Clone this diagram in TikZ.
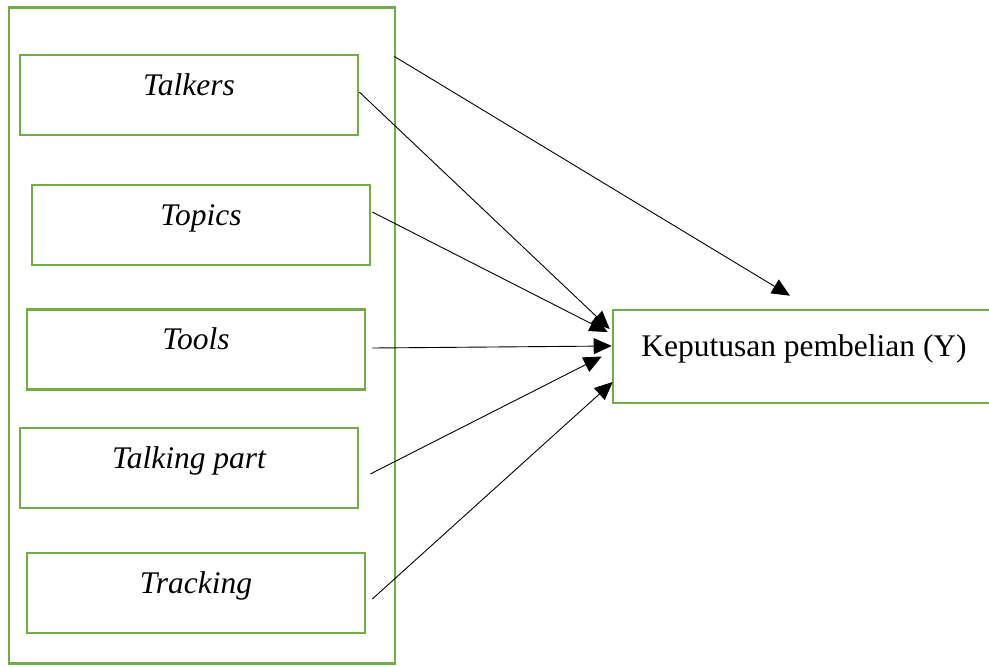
\documentclass[tikz,border=0pt]{standalone}
\usepackage{fontspec}
\setmainfont{Liberation Serif}
\usetikzlibrary{arrows.meta, positioning}
\definecolor{boxgreen}{RGB}{112,173,71}

\begin{document}
\begin{tikzpicture}[x=1pt, y=-1pt,
  factor/.style={draw=boxgreen, line width=2.6pt, minimum width=338pt, minimum height=80pt, text height=20pt, text depth=20pt, inner sep=0pt, font=\fontsize{31.5}{36}\selectfont\itshape},
  result/.style={draw=boxgreen, line width=2.6pt, minimum width=382pt, minimum height=93pt, text height=20pt, text depth=20pt, inner sep=0pt, font=\fontsize{31.5}{36}\selectfont},
  arr/.style={-{Triangle[length=18pt, width=16pt]}, line width=0.9pt}
]
  \useasboundingbox (0,0) rectangle (989,667);

  % Frame round the factors
  \node[draw=boxgreen, line width=2.6pt, minimum width=386pt, minimum height=656pt, inner sep=0pt] (frame) at (202,335.75) {};

  % Factors
  \node[factor] (talkers) at (189,95) {Talkers};
  \node[factor] (topics) at (201,225) {Topics};
  \node[factor] (tools) at (196,349.5) {Tools};
  \node[factor] (talking) at (189,468) {Talking part};
  \node[factor] (tracking) at (196,593) {Tracking};

  % Result
  \node[result] (keputusan) at (804,356.5) {Keputusan pembelian (Y)};

  % Arrows
  \draw[arr] ([xshift=-2pt, yshift=-50pt]frame.north east) -- ([xshift=-14pt, yshift=13pt]keputusan.north);
  \draw[arr] ([yshift=3pt]talkers.east) -- ([xshift=-2pt, yshift=27.5pt]keputusan.west);
  \draw[arr] ([xshift=1pt, yshift=13pt]topics.east) -- ([xshift=-4pt, yshift=24.5pt]keputusan.west);
  \draw[arr] ([xshift=6pt, yshift=1.5pt]tools.east) -- ([yshift=10.5pt]keputusan.west);
  \draw[arr] ([xshift=11pt, yshift=-6pt]talking.east) -- ([xshift=-10pt]keputusan.west);
  \draw[arr] ([xshift=6pt, yshift=-6pt]tracking.east) -- ([xshift=1pt, yshift=-25.5pt]keputusan.west);

\end{tikzpicture}
\end{document}
